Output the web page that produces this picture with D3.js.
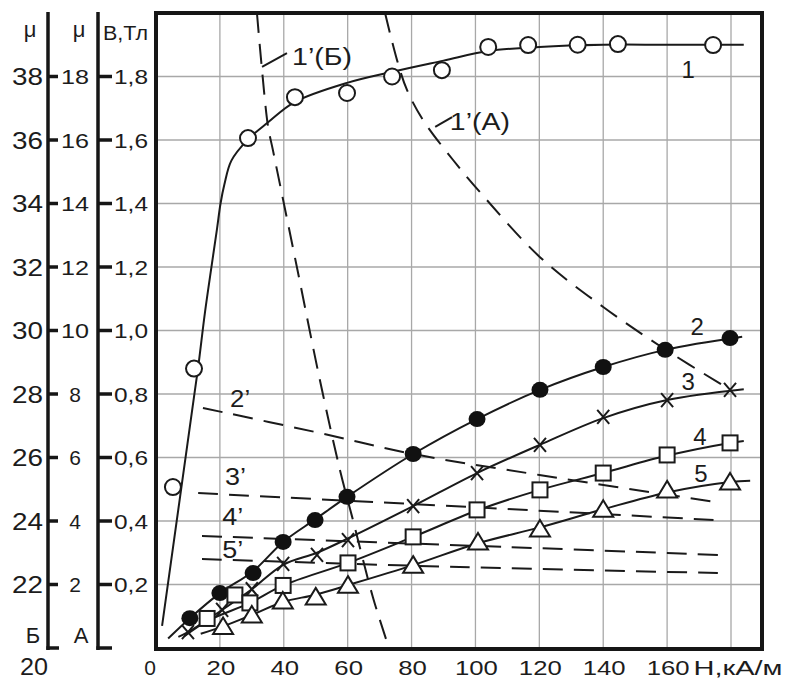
<!DOCTYPE html>
<html>
<head>
<meta charset="utf-8">
<script src="https://cdn.jsdelivr.net/npm/d3@7/dist/d3.min.js"></script>
<style>
  body { margin: 0; background: #fff; }
  text { font-family: "Liberation Sans", Arial, sans-serif; fill: #1c1c1c; }
</style>
</head>
<body>
<div id="chart"></div>
<script>
// Axis ticks
const hTicks = [0, 20, 40, 60, 80, 100, 120, 140, 160];
const hGrid = [20, 40, 60, 80, 100, 120, 140, 160, 180];
const bTicks = [0.2, 0.4, 0.6, 0.8, 1.0, 1.2, 1.4, 1.6, 1.8];
const bTickLabels = ["0,2", "0,4", "0,6", "0,8", "1,0", "1,2", "1,4", "1,6", "1,8"];
const muATicks = [2, 4, 6, 8, 10, 12, 14, 16, 18];
const muBTicks = [22, 24, 26, 28, 30, 32, 34, 36, 38];

// Curve 1 (open circles), B(H)
const curve1Points = [[5.3, 0.507], [11.9, 0.88], [28.8, 1.606], [43.5, 1.735], [59.8, 1.748], [73.9, 1.80],
  [89.5, 1.82], [104, 1.893], [116.5, 1.899], [132, 1.90], [144.6, 1.902], [174.4, 1.899]];
const curve1Line = [[1.9, 0.07], [12.3, 0.82], [13.4, 0.9], [15.3, 1.055], [17.5, 1.21], [19.1, 1.32], [20.2, 1.40],
  [21.4, 1.46], [23.6, 1.535], [28.8, 1.602], [35, 1.655], [43.5, 1.72], [59.8, 1.78], [74, 1.815], [90, 1.85],
  [104, 1.88], [120, 1.893], [140, 1.90], [160, 1.90], [184, 1.90]];

// Curve 2 (filled circles)
const curve2Points = [[10.6, 0.094], [20, 0.173], [30.4, 0.236], [39.8, 0.334], [49.8, 0.403], [59.8, 0.476],
  [80.5, 0.611], [100.5, 0.721], [120.2, 0.813], [140, 0.885], [159.4, 0.939], [179.7, 0.976]];
const curve2Line = [[3.8, 0.03], [10.6, 0.094], [20, 0.173], [30.4, 0.242], [39.8, 0.334], [49.8, 0.405],
  [59.8, 0.476], [80.5, 0.611], [100.5, 0.721], [120.2, 0.813], [140, 0.885], [159.4, 0.939], [183.5, 0.98]];

// Curve 3 (crosses)
const curve3Points = [[10, 0.05], [20.7, 0.12], [30, 0.185], [39.8, 0.265], [50.4, 0.293], [60.1, 0.34],
  [80.5, 0.447], [100.5, 0.551], [120.2, 0.64], [140, 0.728], [160, 0.781], [179.7, 0.813]];
const curve3Line = [[7, 0.035], [10, 0.05], [20.7, 0.12], [30, 0.185], [39.8, 0.262], [50.4, 0.3], [60.1, 0.345],
  [80.5, 0.447], [100.5, 0.551], [120.2, 0.64], [140, 0.724], [160, 0.781], [184, 0.815]];

// Curve 4 (squares)
const curve4Points = [[16, 0.093], [24.7, 0.167], [29.4, 0.142], [39.8, 0.197], [60.1, 0.268], [80.5, 0.35],
  [100.5, 0.435], [120.2, 0.498], [140, 0.551], [160, 0.608], [179.7, 0.646]];
const curve4Line = [[9, 0.038], [16, 0.085], [29.4, 0.142], [39.8, 0.197], [60.1, 0.268], [80.5, 0.35],
  [100.5, 0.433], [120.2, 0.498], [140, 0.551], [160, 0.606], [179.7, 0.646], [184, 0.652]];

// Curve 5 (triangles)
const curve5Points = [[21, 0.068], [30, 0.104], [39.7, 0.148], [50, 0.161], [60.1, 0.198], [80.5, 0.261],
  [100.8, 0.334], [120.2, 0.375], [140, 0.437], [160, 0.498], [179.7, 0.523]];
const curve5Line = [[14, 0.045], [21, 0.068], [30, 0.104], [39.7, 0.145], [50, 0.168], [60.1, 0.198],
  [80.5, 0.261], [100.8, 0.33], [120.2, 0.38], [140, 0.437], [160, 0.49], [179.7, 0.523], [186, 0.527]];

// Dashed curves (permeability)
const dash1B = [[31.6, 2.0], [33.1, 1.83], [35.1, 1.641], [36.6, 1.568], [44.1, 1.2], [51.3, 0.844],
  [57.6, 0.56], [61.4, 0.413], [67.9, 0.16], [72.6, 0.01]];
const dash1A = [[71.7, 2.0], [75.5, 1.85], [78.6, 1.757], [83.6, 1.663], [93, 1.537], [100.8, 1.443],
  [120.2, 1.231], [140, 1.074], [158.7, 0.945], [178.8, 0.819]];
const dash2 = [[14.7, 0.756], [50, 0.68], [80.5, 0.611], [120, 0.545], [175, 0.46]];
const dash3 = [[13.2, 0.488], [98.3, 0.444], [175, 0.403]];
const dash4 = [[14.4, 0.353], [110, 0.318], [176.6, 0.293]];
const dash5 = [[14.4, 0.28], [95, 0.255], [176.6, 0.236]];

// Leader lines for the 1' labels
const leader1B = [[33.2, 1.83], [41, 1.874]];
const leader1A = [[87.4, 1.641], [92.7, 1.672]];

document.addEventListener('DOMContentLoaded', function() {
    const width = 785, height = 679;

    const svg = d3.select("#chart").append("svg")
        .attr("width", width)
        .attr("height", height);

    // Scales: H along the bottom, B on the inner left axis, two mu scales sharing the outer axis
    const x = d3.scaleLinear().domain([0, 180]).range([156, 731]);
    const y = d3.scaleLinear().domain([0, 2]).range([648, 13]);
    const muA = d3.scaleLinear().domain([0, 20]).range(y.range());
    const muB = d3.scaleLinear().domain([20, 40]).range(y.range());
    const xMax = x.invert(762);

    // Background layer: grid and frame live in their own group
    const back = svg.append("g").attr("class", "back");

    const label = (x0, y0, s, size, anchor, len) => {
        const t = svg.append("text")
            .attr("x", x0)
            .attr("y", y0)
            .attr("font-size", size)
            .attr("text-anchor", anchor || "middle")
            .text(s);
        if (len) t.attr("textLength", len).attr("lengthAdjust", "spacingAndGlyphs");
        return t;
    };

    // Grid
    hGrid.forEach(v => {
        back.append("line")
            .attr("x1", x(v)).attr("x2", x(v))
            .attr("y1", y(2)).attr("y2", y(0))
            .style("stroke", "#a8a8a8").style("stroke-width", "1.3px");
    });
    bTicks.forEach(v => {
        back.append("line")
            .attr("x1", x(0)).attr("x2", x(xMax))
            .attr("y1", y(v)).attr("y2", y(v))
            .style("stroke", "#a8a8a8").style("stroke-width", "1.3px");
    });

    const smooth = d3.line()
        .x(d => x(d[0]))
        .y(d => y(d[1]))
        .curve(d3.curveCatmullRom.alpha(0.5));

    // Dashed curves
    [dash1B, dash1A, dash2, dash3, dash4, dash5].forEach(d => {
        svg.append("path")
            .attr("d", smooth(d))
            .attr("fill", "none")
            .attr("stroke", "#1a1a1a")
            .attr("stroke-width", 2)
            .attr("stroke-dasharray", "20,11");
    });

    // Leader lines
    [leader1B, leader1A].forEach(d => {
        svg.append("path")
            .attr("d", d3.line().x(p => x(p[0])).y(p => y(p[1]))(d))
            .attr("fill", "none")
            .attr("stroke", "#1a1a1a")
            .attr("stroke-width", 2);
    });

    // Solid curves
    [curve1Line, curve2Line, curve3Line, curve4Line, curve5Line].forEach(d => {
        svg.append("path")
            .attr("d", smooth(d))
            .attr("fill", "none")
            .attr("stroke", "#1a1a1a")
            .attr("stroke-width", 2);
    });

    // Markers
    svg.append("g").selectAll("circle")
        .data(curve1Points)
        .enter().append("circle")
        .attr("cx", d => x(d[0])).attr("cy", d => y(d[1]))
        .attr("r", 8)
        .attr("fill", "#fff").attr("stroke", "#1a1a1a").attr("stroke-width", 2);

    svg.append("g").selectAll("ellipse")
        .data(curve2Points)
        .enter().append("ellipse")
        .attr("cx", d => x(d[0])).attr("cy", d => y(d[1]))
        .attr("rx", 8.5).attr("ry", 8)
        .attr("fill", "#111");

    svg.append("g").selectAll("path")
        .data(curve3Points)
        .enter().append("path")
        .attr("d", d => {
            const cx = x(d[0]), cy = y(d[1]);
            return `M${cx - 6},${cy - 7}L${cx + 6},${cy + 7}M${cx + 6},${cy - 7}L${cx - 6},${cy + 7}`;
        })
        .attr("fill", "none")
        .attr("stroke", "#1a1a1a").attr("stroke-width", 2);

    svg.append("g").selectAll("rect")
        .data(curve4Points)
        .enter().append("rect")
        .attr("x", d => x(d[0]) - 7.5).attr("y", d => y(d[1]) - 7.5)
        .attr("width", 15).attr("height", 15)
        .attr("fill", "#fff").attr("stroke", "#1a1a1a").attr("stroke-width", 2);

    svg.append("g").selectAll("path")
        .data(curve5Points)
        .enter().append("path")
        .attr("d", d => {
            const cx = x(d[0]), cy = y(d[1]);
            return `M${cx},${cy - 9}L${cx + 10},${cy + 7.5}L${cx - 10},${cy + 7.5}Z`;
        })
        .attr("fill", "#fff").attr("stroke", "#1a1a1a").attr("stroke-width", 2);

    // Frame
    svg.append("rect")
        .attr("x", x(0)).attr("y", y(2))
        .attr("width", x(xMax) - x(0))
        .attr("height", y(0) - y(2) + 1)
        .style("fill", "none")
        .style("stroke", "#161616")
        .style("stroke-width", "4px");

    // Curve labels
    label(x(166.6), y(1.795), "1", 24);
    label(x(169.4), y(0.986), "2", 24);
    label(x(166.6), y(0.813), "3", 24);
    label(x(170.3), y(0.639), "4", 24);
    label(x(170.6), y(0.523), "5", 24);
    label(x(42.6), y(1.836), "1\u2019(\u0411)", 23, "start", 60);
    label(x(92), y(1.631), "1\u2019(\u0410)", 23, "start", 60);
    label(x(23.2), y(0.759), "2\u2019", 23, "start", 20);
    label(x(21.6), y(0.513), "3\u2019", 23, "start", 21);
    label(x(20.7), y(0.387), "4\u2019", 23, "start", 21);
    label(x(20.7), y(0.283), "5\u2019", 23, "start", 21);

    // Bottom axis labels
    hTicks.forEach(v => {
        const s = String(v);
        const cx = v === 0 ? x(v) - 6 : x(v) + 1;
        label(cx, 675, s, 21, "middle", s.length > 1 ? s.length * 14.3 : null);
    });
    label(x(180) + 7, 675, "\u041d,\u043a\u0410/\u043c", 21, "middle", 89);

    // Left axes
    const muX = 48, bX = 98;
    const axisStroke = "#161616";
    [muX, bX].forEach((ax, i) => {
        svg.append("line")
            .attr("x1", ax).attr("x2", ax)
            .attr("y1", 12).attr("y2", y(0) + 2)
            .attr("stroke", axisStroke).attr("stroke-width", 3.5);
        svg.append("line")
            .attr("x1", ax - 1.7).attr("x2", ax + (i === 0 ? 11 : 14))
            .attr("y1", y(0)).attr("y2", y(0))
            .attr("stroke", axisStroke).attr("stroke-width", 3.5);
    });

    svg.append("g").selectAll("line")
        .data(muATicks)
        .enter().append("line")
        .attr("x1", muX).attr("x2", muX + 10)
        .attr("y1", d => muA(d)).attr("y2", d => muA(d))
        .attr("stroke", axisStroke).attr("stroke-width", 3.5);
    svg.append("g").selectAll("line")
        .data(bTicks)
        .enter().append("line")
        .attr("x1", bX).attr("x2", bX + 14)
        .attr("y1", d => y(d)).attr("y2", d => y(d))
        .attr("stroke", axisStroke).attr("stroke-width", 3.5);

    muBTicks.forEach(v => label(43, muB(v) + 8.5, String(v), 24, "end", 31));
    muATicks.forEach(v => label(75, muA(v) + 7.5, String(v), 21, "middle", v >= 10 ? 28 : null));
    bTicks.forEach((v, i) => label(114, y(v) + 7.5, bTickLabels[i], 21, "start", 34));

    label(34, 675, "20", 23, "middle", 28);
    label(33, 643, "\u0411", 22);
    label(81, 643, "\u0410", 22);
    label(30, 37, "\u03bc", 22);
    label(79, 37, "\u03bc", 22);
    label(103, 40, "\u0412,\u0422\u043b", 20, "start", 45);
});
</script>
</body>
</html>
